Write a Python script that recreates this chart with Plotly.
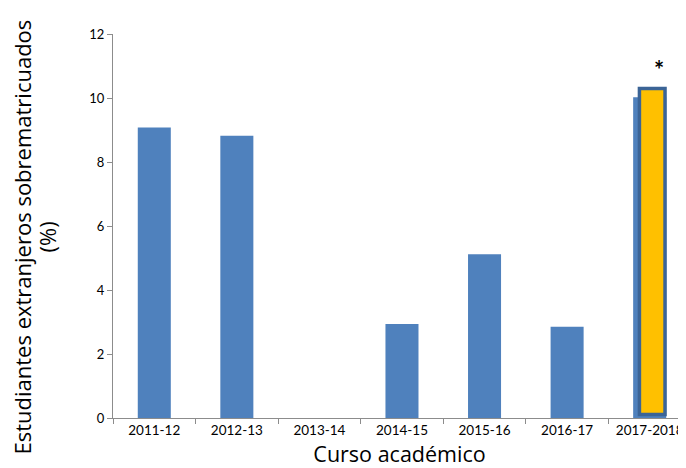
import plotly.graph_objects as go

categories = ["2011-12", "2012-13", "2013-14", "2014-15", "2015-16", "2016-17", "2017-2018"]
values = [9.08, 8.82, 0, 2.94, 5.12, 2.85, 10.02]
highlight_category = ["2017-2018"]
highlight_base = [0.11]
highlight_top = [10.3]
highlight_height = [t - b for t, b in zip(highlight_top, highlight_base)]
asterisk_y = 10.9

y_title_line1 = "Estudiantes extranjeros sobrematricuados"
y_title_line2 = "(%)"
x_title = "Curso académico"

TICK_FONT = "Lato, 'Open Sans', sans-serif"
TITLE_FONT = "'Open Sans', sans-serif"

fig = go.Figure()
fig.add_trace(go.Bar(
    x=categories, y=values, width=0.4,
    marker=dict(color="#4F81BD", line=dict(width=0)),
    showlegend=False,
))
fig.add_trace(go.Bar(
    x=highlight_category, y=highlight_height, base=highlight_base,
    width=0.31, offset=-0.124,
    marker=dict(color="#FFC000", line=dict(color="#3B6496", width=3.5)),
    showlegend=False,
))
fig.add_annotation(x=highlight_category[0], y=asterisk_y, text="<b>*</b>", showarrow=False,
                   xshift=9, font=dict(family=TICK_FONT, size=24, color="#000000"))

# y-axis title as two rotated lines
fig.add_annotation(xref="paper", yref="paper", x=0, y=0.47, xshift=-91,
                   text=y_title_line1, textangle=-90, showarrow=False,
                   xanchor="center", yanchor="middle",
                   font=dict(family=TITLE_FONT, size=22, color="#000000"))
fig.add_annotation(xref="paper", yref="paper", x=0, y=0.47, xshift=-66,
                   text=y_title_line2, textangle=-90, showarrow=False,
                   xanchor="center", yanchor="middle",
                   font=dict(family=TITLE_FONT, size=22, color="#000000"))

fig.update_layout(
    width=678, height=460,
    margin=dict(l=105, r=0, t=26, b=50),
    paper_bgcolor="white", plot_bgcolor="white",
    barmode="overlay",
    font=dict(family=TICK_FONT, color="#000000"),
    xaxis=dict(
        type="category", categoryorder="array", categoryarray=categories,
        range=[-0.5, 6.44], showgrid=False, automargin=False,
        showline=True, linecolor="#8C8C8C", linewidth=1.3,
        ticks="outside", tickson="boundaries", ticklen=5, tickcolor="#8C8C8C",
        tickfont=dict(size=13.5),
        title=dict(text=x_title, font=dict(family=TITLE_FONT, size=21.5), standoff=9),
    ),
    yaxis=dict(
        range=[0, 12], dtick=2, showgrid=False, zeroline=False, automargin=False,
        showline=True, linecolor="#8C8C8C", linewidth=1.3,
        ticks="outside", ticklen=5, tickcolor="#8C8C8C",
        tickfont=dict(size=13),
    ),
)

fig.write_html("out.html")
